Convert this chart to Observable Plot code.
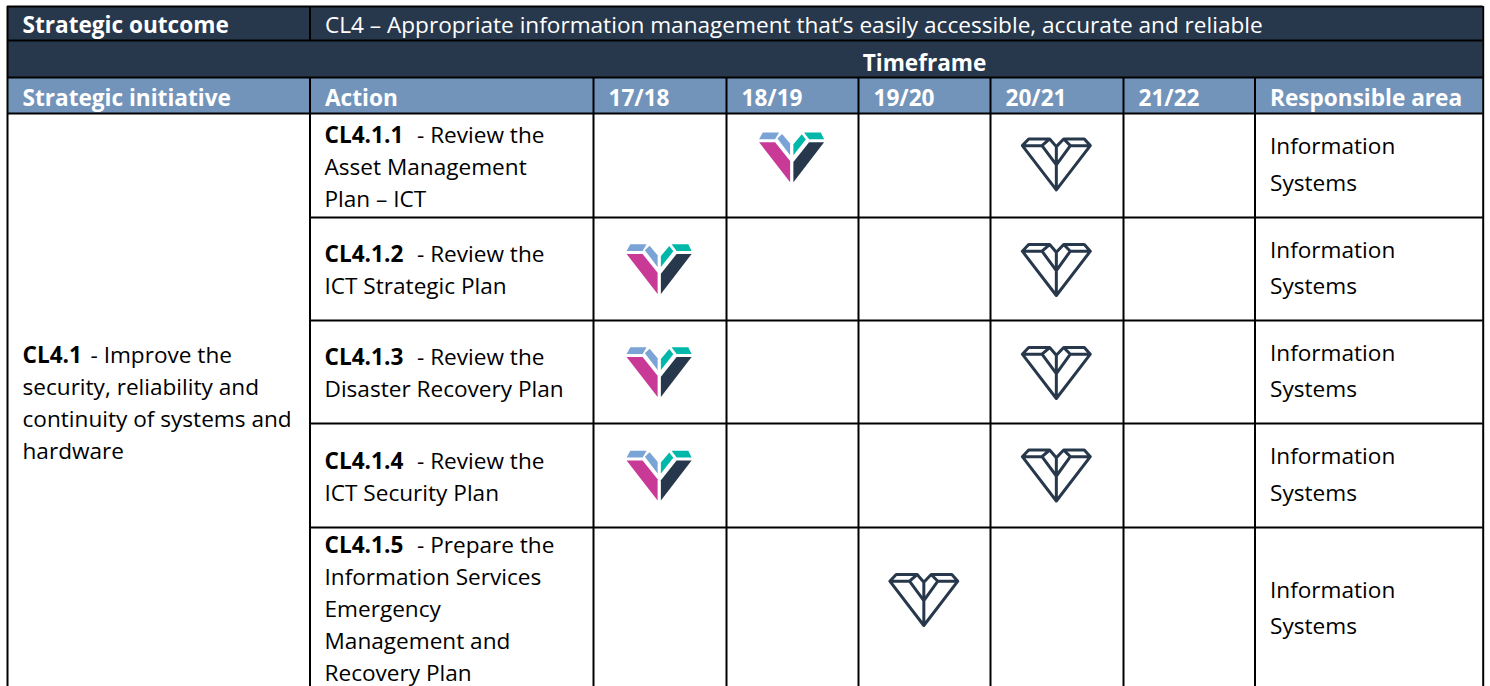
<!DOCTYPE html>
<html><head><meta charset="utf-8">
<script src="https://cdn.jsdelivr.net/npm/d3@7"></script>
<script src="https://cdn.jsdelivr.net/npm/@observablehq/plot@0.6"></script>
<style>
html,body{margin:0;padding:0;background:#fff;overflow:hidden}
svg{display:block}
</style></head><body><div id="chart"></div>
<script>
// --- table content ---
const years = ["17/18","18/19","19/20","20/21","21/22"];
const outcomeLabel = "Strategic outcome";
const outcomeText = "CL4 – Appropriate information management that’s easily accessible, accurate and reliable";
const timeframeLabel = "Timeframe";
const initiativeHead = "Strategic initiative";
const actionHead = "Action";
const responsibleHead = "Responsible area";
const initiativeCode = "CL4.1";
const initiativeFirst = "- Improve the";
const initiativeRest = "security, reliability and\ncontinuity of systems and\nhardware";
const actionCodes = ["CL4.1.1","CL4.1.2","CL4.1.3","CL4.1.4","CL4.1.5"];
const actionFirst = ["- Review the","- Review the","- Review the","- Review the","- Prepare the"];
const actionRest = ["Asset Management\nPlan – ICT","ICT Strategic Plan","Disaster Recovery Plan","ICT Security Plan","Information Services\nEmergency\nManagement and\nRecovery Plan"];
const responsible = ["Information\nSystems","Information\nSystems","Information\nSystems","Information\nSystems","Information\nSystems"];
// column index of the year (0-4), action row (0-4), fraction of the row height
const doneYear = [1,0,0,0];
const doneAction = [0,1,2,3];
const doneFrac = [0.42,0.5,0.5,0.5];
const plannedYear = [3,3,3,3,2];
const plannedAction = [0,1,2,3,4];
const plannedFrac = [0.49,0.51,0.51,0.5,0.445];
const actionFrac = [0.5,0.5,0.5,0.5,0.494];

// --- layout scales (column and row index -> page) ---
const colEdges = [7,309.5,593,726,858,990,1123,1254.5,1482.7];
const rowEdges = [6,40,77,113,217,320,423,527,690];
const NAVY="#28384c", HEAD="#7394ba", FONT="'Open Sans'", FS=22.6, LH=32/FS;

const nl = (n)=>"\n\u00a0".repeat(n);
const lineCount = (s)=>s.split("\n").length;

const poly = (pts)=>({draw(c,size){const s=Math.sqrt(size/Math.PI);
  pts.forEach(([x,y],i)=>i?c.lineTo((x-0.7)*s,y*s):c.moveTo((x-0.7)*s,y*s));c.closePath();}});
const gemPieces = [
 {fill:"#7aa3d6",pts:[[-32.7,-18],[-29,-24.7],[-12.7,-24.7],[-16.7,-18]]},
 {fill:"#7aa3d6",pts:[[-14.4,-18.7],[-9.7,-23.3],[-1.7,-13.7],[-1.7,-2]]},
 {fill:"#00b8a9",pts:[[1.6,-2],[1.6,-13],[10,-23],[14,-17.7]]},
 {fill:"#00b8a9",pts:[[12.3,-24.7],[29,-24.7],[32.3,-18],[17.3,-18]]},
 {fill:"#c93a96",pts:[[-32.7,-15],[-16.7,-15],[-1.7,3.7],[-1.7,25]]},
 {fill:NAVY,pts:[[1.6,25],[1.6,4.7],[17.3,-15],[32.3,-15]]}
];
const outlineGem = {draw(c,size){const s=Math.sqrt(size/Math.PI);
  const P=(x,y)=>[(x-170)/3*s,(y-118.5)/3*s];
  const path=(pts,close)=>{pts.forEach((p,i)=>{const q=P(p[0],p[1]);i?c.lineTo(q[0],q[1]):c.moveTo(q[0],q[1]);});if(close)c.closePath();};
  path([[66,62],[85,42],[148,42],[168,65],[190,42],[252,42],[270,62],[168,195]],true);
  path([[66,62],[125,62],[168,120]]);path([[148,42],[125,62]]);
  path([[270,62],[210,62],[168,120]]);path([[190,42],[210,62]]);path([[168,65],[168,195]]);
}};

const yearCol = (i)=>i+2, actionRow = (i)=>i+3;
const bands = [
 {x1:0,x2:8,y1:0,y2:2,fill:NAVY},
 {x1:0,x2:8,y1:2,y2:3,fill:HEAD}
];
const hLines = [{y:0,a:0,b:8},{y:1,a:0,b:8},{y:2,a:0,b:8},{y:3,a:0,b:8},{y:4,a:1,b:8},{y:5,a:1,b:8},{y:6,a:1,b:8},{y:7,a:1,b:8}];
const vLines = [{x:0,a:0,b:8},{x:1,a:0,b:1},{x:1,a:2,b:8},{x:8,a:0,b:8},
  ...[2,3,4,5,6,7].map(x=>({x,a:2,b:8}))];

const txt=(data,o)=>Plot.text(data,{fontFamily:FONT,fontSize:FS,lineHeight:LH,textAnchor:"start",...o});
const headText=(t,col,row,o={})=>txt([t],{x:()=>col,y:()=>row+0.5,text:d=>d,fill:"#fff",fontWeight:700,dx:15,dy:row===2?0:-1,...o});
const actionIdx=d3.range(5);

const marks=[
 Plot.rect(bands,{x1:"x1",x2:"x2",y1:"y1",y2:"y2",fill:"fill"}),
 headText(outcomeLabel,0,0),
 headText(outcomeText,1,0,{fontWeight:400}),
 txt([timeframeLabel],{x:()=>4.5,y:()=>1.5,text:d=>d,fill:"#fff",fontWeight:700,textAnchor:"middle",dy:1.5}),
 headText(initiativeHead,0,2),
 headText(actionHead,1,2),
 ...years.map((y,i)=>headText(y,yearCol(i),2)),
 headText(responsibleHead,7,2),
 // initiative cell
 txt([initiativeCode+nl(lineCount(initiativeRest))],{x:()=>0,y:()=>5.78,text:d=>d,fill:"#000",fontWeight:700,dx:15}),
 txt([initiativeFirst+nl(lineCount(initiativeRest))],{x:()=>0,y:()=>5.78,text:d=>d,fill:"#000",dx:83}),
 txt(["\u00a0\n"+initiativeRest],{x:()=>0,y:()=>5.78,text:d=>d,fill:"#000",dx:15}),
 // action cells
 txt(actionIdx,{x:()=>1,y:i=>actionRow(i)+actionFrac[i],text:i=>actionCodes[i]+nl(lineCount(actionRest[i])),fill:"#000",fontWeight:700,dx:14.5,dy:-1}),
 txt(actionIdx,{x:()=>1,y:i=>actionRow(i)+actionFrac[i],text:i=>actionFirst[i]+nl(lineCount(actionRest[i])),fill:"#000",dx:107,dy:-1}),
 txt(actionIdx,{x:()=>1,y:i=>actionRow(i)+actionFrac[i],text:i=>"\u00a0\n"+actionRest[i],fill:"#000",dx:14.5,dy:-1}),
 // responsible cells
 txt(actionIdx,{x:()=>7,y:i=>actionRow(i)+0.5,text:i=>responsible[i],fill:"#000",dx:15,dy:-4.5,lineHeight:36.5/FS}),
 // gems
 ...gemPieces.map(p=>Plot.dot(d3.range(doneYear.length),{
   x:i=>yearCol(doneYear[i])+0.5,y:i=>actionRow(doneAction[i])+doneFrac[i],
   r:1,symbol:poly(p.pts),fill:p.fill})),
 Plot.dot(d3.range(plannedYear.length),{
   x:i=>yearCol(plannedYear[i])+0.5,y:i=>actionRow(plannedAction[i])+plannedFrac[i],
   r:1,symbol:outlineGem,fill:"none",stroke:NAVY,strokeWidth:3,strokeLinejoin:"round"}),
 // grid
 Plot.ruleY(hLines,{y:"y",x1:"a",x2:"b",stroke:"#000",strokeWidth:2}),
 Plot.ruleX(vLines,{x:"x",y1:"a",y2:"b",stroke:"#000",strokeWidth:2})
];

document.getElementById("chart").append(Plot.plot({
  width:1490,height:686,margin:0,
  x:{type:"linear",domain:d3.range(colEdges.length),range:colEdges,axis:null},
  y:{type:"linear",domain:d3.range(rowEdges.length),range:rowEdges,axis:null},
  style:{background:"#fff"},
  marks
}));
</script></body></html>
